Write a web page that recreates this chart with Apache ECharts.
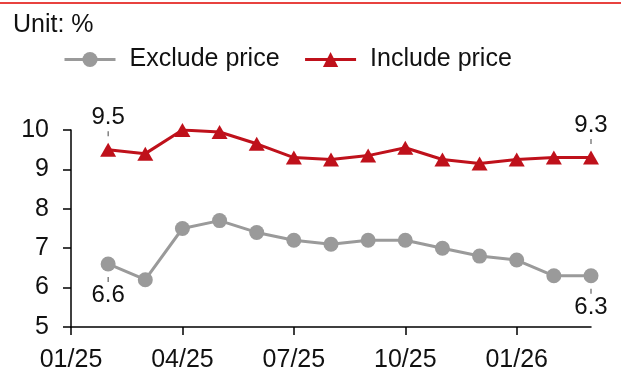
<!DOCTYPE html>
<html>
<head>
<meta charset="utf-8">
<script src="https://cdn.jsdelivr.net/npm/echarts@6/dist/echarts.min.js"></script>
<style>
  html, body { margin: 0; padding: 0; background: #fff; }
  #chart { width: 625px; height: 373px; }
</style>
</head>
<body>
<div id="chart"></div>
<script>
// Monthly categories, Jan 2025 to Mar 2026 (Jan 2025 has no reading)
const months = ['01/25', '02/25', '03/25', '04/25', '05/25', '06/25', '07/25', '08/25',
                '09/25', '10/25', '11/25', '12/25', '01/26', '02/26', '03/26'];
// Growth excluding price effect, %
const excludePrice = [null, 6.6, 6.2, 7.5, 7.7, 7.4, 7.2, 7.1, 7.2, 7.2, 7.0, 6.8, 6.7, 6.3, 6.3];
// Growth including price effect, %
const includePrice = [null, 9.5, 9.4, 10.0, 9.95, 9.65, 9.3, 9.25, 9.35, 9.55, 9.25, 9.15, 9.25, 9.3, 9.3];
const yTicks = { min: 5, max: 10, step: 1 };

const FONT = '"Liberation Sans", Arial, sans-serif';
const GREY = '#9a9a9a';
const RED = '#bf111b';
const FS = 25;

// Value callouts on the first and last readings, with a short leader tick
function endLabel(above) {
  return {
    show: true,
    position: above ? 'top' : 'bottom',
    distance: above ? 6 : 5,
    color: '#111',
    fontFamily: FONT,
    formatter: p => above ? '{v|' + p.value + '}\n{t|}' : '{t|}\n{v|' + p.value + '}',
    rich: {
      v: { fontSize: 24, lineHeight: 26, fontFamily: FONT, color: '#111', align: 'center' },
      t: { width: 1, height: 5, lineHeight: 6, backgroundColor: '#444', align: 'center' }
    }
  };
}

function withEndLabels(values, above) {
  const first = values.findIndex(v => v != null);
  const last = values.length - 1;
  return values.map((v, i) => (i === first || i === last)
    ? { value: v, label: endLabel(above) }
    : v);
}

const chart = echarts.init(document.getElementById('chart'), null, { renderer: 'canvas' });
chart.setOption({
  animation: false,
  backgroundColor: '#fff',
  textStyle: { fontFamily: FONT },
  graphic: [{
    type: 'rect',
    shape: { x: 0, y: 2, width: 621, height: 2 },
    style: { fill: '#e8423f' },
    silent: true
  }],
  title: {
    text: 'Unit: %',
    left: 13, top: 13, padding: 0,
    textStyle: { fontSize: FS, fontWeight: 'normal', color: '#111', fontFamily: FONT }
  },
  legend: {
    left: 63, top: 47, padding: 0,
    itemWidth: 51, itemHeight: 19, itemGap: 24,
    lineStyle: { width: 3 },
    textStyle: { fontSize: FS, color: '#111', fontFamily: FONT, padding: [3, 0, 0, 9] },
    data: ['Exclude price', 'Include price']
  },
  grid: { left: 71, right: 34, top: 130, bottom: 46, containLabel: false },
  xAxis: {
    type: 'category',
    data: months,
    boundaryGap: false,
    axisLine: { lineStyle: { color: '#000', width: 1.5 } },
    axisTick: { show: true, interval: 2, length: 8, lineStyle: { color: '#000', width: 1.5 } },
    axisLabel: { interval: 2, fontSize: FS, color: '#111', margin: 21, fontFamily: FONT },
    splitLine: { show: false }
  },
  yAxis: {
    type: 'value',
    min: yTicks.min, max: yTicks.max, interval: yTicks.step,
    axisLine: { show: true, lineStyle: { color: '#000', width: 1.5 } },
    axisTick: { show: true, length: 8, inside: false, lineStyle: { color: '#000', width: 1.5 } },
    axisLabel: { fontSize: FS, color: '#111', margin: 22, fontFamily: FONT },
    splitLine: { show: false }
  },
  series: [
    {
      name: 'Exclude price',
      type: 'line',
      data: withEndLabels(excludePrice, false),
      symbol: 'circle',
      symbolSize: 15,
      lineStyle: { color: GREY, width: 3 },
      itemStyle: { color: GREY },
      label: { show: false },
      z: 3
    },
    {
      name: 'Include price',
      type: 'line',
      data: withEndLabels(includePrice, true),
      symbol: 'triangle',
      symbolSize: [16, 14],
      lineStyle: { color: RED, width: 3 },
      itemStyle: { color: RED },
      label: { show: false },
      z: 4
    }
  ]
});
</script>
</body>
</html>
